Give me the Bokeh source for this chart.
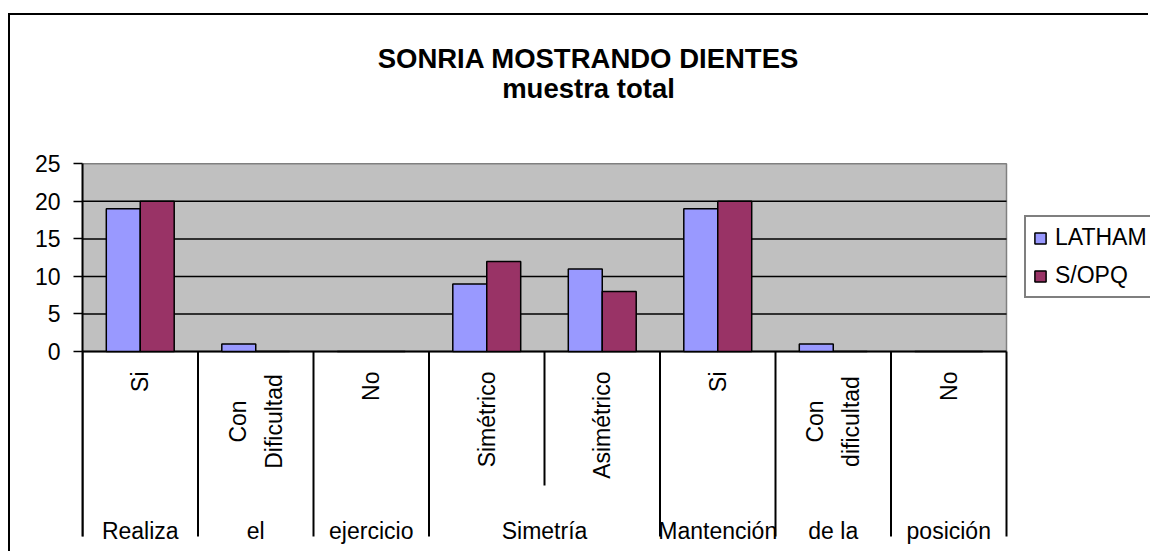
import math
from bokeh.plotting import figure
from bokeh.models import ColumnDataSource, Range1d, FixedTicker, Legend, LegendItem, Label
from bokeh.transform import dodge
from bokeh.core.properties import value
from bokeh.embed import file_html
from bokeh.resources import INLINE

# ---------------- data ----------------
title_main = "SONRIA MOSTRANDO DIENTES"
title_sub = "muestra total"
categories = ["Si", "Con\nDificultad", "No", "Simétrico", "Asimétrico", "Si", "Con\ndificultad", "No"]
groups = ["Realiza", "el", "ejercicio", "Simetría", "Simetría", "Mantención", "de la", "posición"]
latham = [19, 1, 0, 9, 11, 19, 1, 0]
sopq = [20, 0, 0, 12, 8, 20, 0, 0]
series_names = ["LATHAM", "S/OPQ"]
y_ticks = [0, 5, 10, 15, 20, 25]

# ---------------- layout / style ----------------
FONT = "Liberation Sans"
FS = "23px"
W, H = 1140, 538
FRAME_LEFT = 72
PX_X = 115.5          # pixels per category
PX_Y = 7.508          # pixels per value unit
ZERO_PX = 336         # canvas px (from top) of the value 0
C_LATHAM = "#9999FF"
C_SOPQ = "#993366"
BAR_W = 0.294

def below(px):
    return -px / PX_Y

x_end = (W - FRAME_LEFT) / PX_X
y_end = ZERO_PX / PX_Y
y_start = -(H - ZERO_PX) / PX_Y
n = len(categories)
ymax = y_ticks[-1]

p = figure(width=W, height=H, output_backend="svg", toolbar_location=None,
           x_range=Range1d(0, x_end), y_range=Range1d(y_start, y_end),
           min_border_left=FRAME_LEFT, min_border_right=0, min_border_top=0, min_border_bottom=0)
p.styles = {"border-left": "2px solid black", "border-top": "2px solid black",
            "margin-top": "13px", "margin-left": "8px"}
p.outline_line_color = None
p.xgrid.visible = False
p.ygrid.visible = False
p.xaxis.visible = False

yax = p.yaxis[0]
yax.ticker = FixedTicker(ticks=y_ticks)
yax.bounds = (below(185), ymax)
yax.axis_line_color = "black"
yax.axis_line_width = 2
yax.major_tick_line_color = "black"
yax.major_tick_line_width = 1.5
yax.major_tick_in = 0
yax.major_tick_out = 9
yax.minor_tick_line_color = None
yax.major_label_standoff = 13
yax.major_label_text_font = FONT
yax.major_label_text_font_size = FS
yax.major_label_text_color = "black"

# plot area background
p.quad(left=[0], right=[n], bottom=[0], top=[ymax], fill_color="#C0C0C0",
       line_color="#808080", line_width=1.5)
# gridlines
gl = [t for t in y_ticks if 0 < t < ymax]
p.segment(x0=[0] * len(gl), x1=[n] * len(gl), y0=gl, y1=gl, line_color="black", line_width=1.5)
p.segment(x0=[0], x1=[n], y0=[0], y1=[0], line_color="black", line_width=2)

# bars
xc = [i + 0.5 for i in range(n)]
src = ColumnDataSource(dict(x=xc, latham=latham, sopq=sopq))
r1 = p.vbar(x=dodge("x", -BAR_W / 2, range=p.x_range), top="latham", width=BAR_W, source=src,
            fill_color=C_LATHAM, line_color="black", line_width=1.5)
r2 = p.vbar(x=dodge("x", BAR_W / 2, range=p.x_range), top="sopq", width=BAR_W, source=src,
            fill_color=C_SOPQ, line_color="black", line_width=1.5)

# category separators
bx0, by1 = [], []
for b in range(n + 1):
    bx0.append(b)
    if 0 < b < n and groups[b - 1] == groups[b]:
        by1.append(below(134))
    else:
        by1.append(below(185))
p.segment(x0=bx0, x1=bx0, y0=[0] * len(bx0), y1=by1, line_color="black", line_width=2)

# inner category labels (rotated)
s_x = [xc[i] for i in range(n) if "\n" not in categories[i]]
s_t = [c for c in categories if "\n" not in c]
m_x = [xc[i] for i in range(n) if "\n" in categories[i]]
m_t = [c for c in categories if "\n" in c]
p.text(x=s_x, y=[below(20)] * len(s_x), text=s_t, angle=math.pi / 2, text_align="right",
       text_baseline="middle", text_font=value(FONT), text_font_size=FS, text_color="black")
p.text(x=m_x, y=[below(70)] * len(m_x), text=m_t, angle=math.pi / 2, text_align="center",
       text_baseline="middle", text_font=value(FONT), text_font_size=FS, text_color="black",
       text_line_height=1.4)

# group labels
g_x, g_t = [], []
i = 0
while i < n:
    j = i
    while j + 1 < n and groups[j + 1] == groups[i]:
        j += 1
    g_x.append((i + j + 1) / 2)
    g_t.append(groups[i])
    i = j + 1
p.text(x=g_x, y=[below(179)] * len(g_x), text=g_t, text_align="center", text_baseline="alphabetic",
       text_font=value(FONT), text_font_size=FS, text_color="black")

# titles
tx = (588 - 82) / PX_X
p.add_layout(Label(x=tx, y=(351 - 58) / PX_Y, text=title_main, text_align="center",
                   text_baseline="alphabetic", text_font=FONT, text_font_size="27.5px",
                   text_font_style="bold", text_color="black"))
p.add_layout(Label(x=tx, y=(351 - 88) / PX_Y, text=title_sub, text_align="center",
                   text_baseline="alphabetic", text_font=FONT, text_font_size="27.5px",
                   text_font_style="bold", text_color="black"))

legend = Legend(items=[LegendItem(label=series_names[0], renderers=[r1]),
                       LegendItem(label=series_names[1], renderers=[r2])],
                location=(942, 255), margin=0, padding=7, spacing=11,
                glyph_width=14, glyph_height=14, label_height=25, label_standoff=8,
                label_text_font=FONT, label_text_font_size=FS, label_text_color="black",
                border_line_color="black", border_line_width=2, background_fill_color="white",
                background_fill_alpha=1)
p.add_layout(legend)

open("out.html", "w").write(file_html(p, INLINE))
